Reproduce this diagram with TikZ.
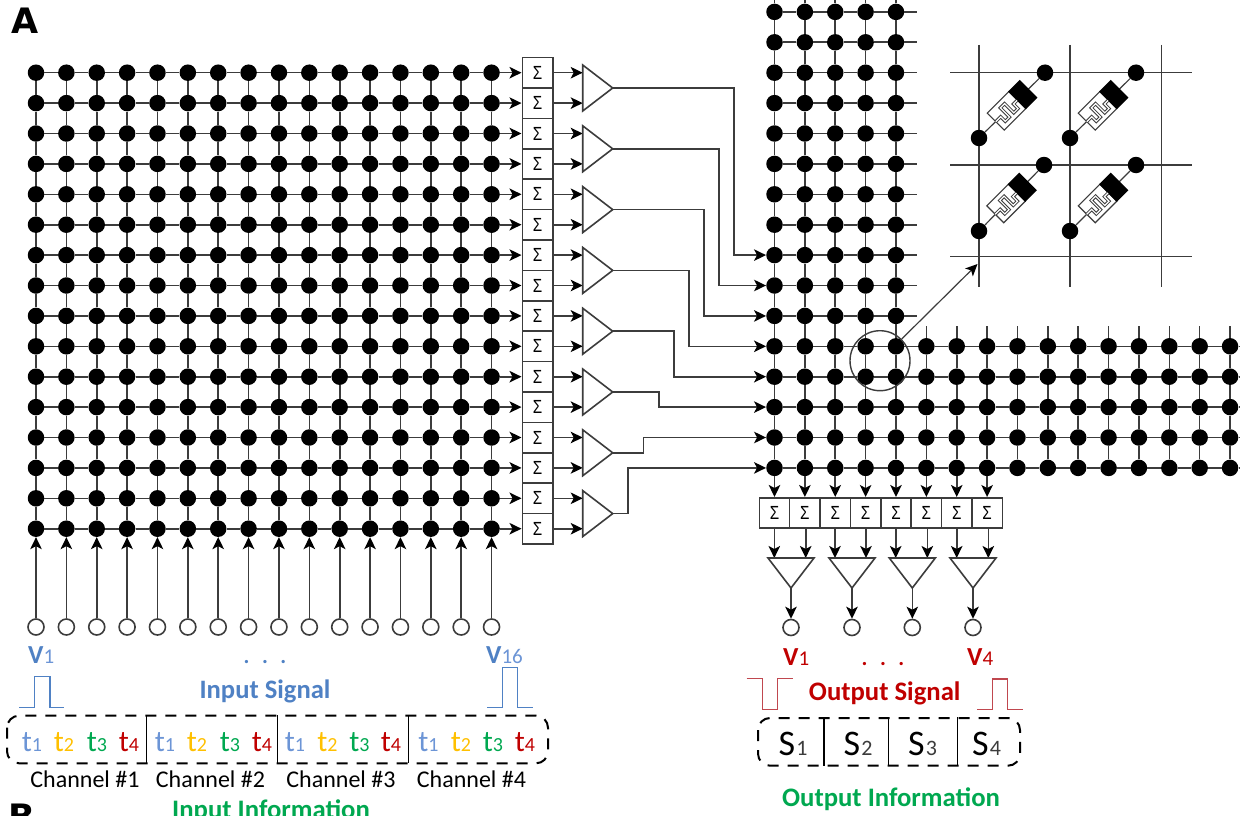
\documentclass[tikz,border=0pt]{standalone}
\usepackage{fontspec}
\setmainfont{Carlito}
\newfontfamily\sigfont{Liberation Sans}
\newfontfamily\labfont{DejaVu Sans}
\usetikzlibrary{arrows.meta}
\definecolor{ink}{HTML}{3C3C3C}
\definecolor{sigblue}{HTML}{4F81C4}
\definecolor{lightblue}{HTML}{6C95D6}
\definecolor{tyellow}{HTML}{FFC000}
\definecolor{tgreen}{HTML}{00A850}
\definecolor{tred}{HTML}{C00000}
\definecolor{pulsered}{HTML}{C0474F}
\newcommand{\fsz}[1]{\fontsize{#1}{#1}\selectfont}
\tikzset{
  wire/.style={draw=ink,line width=1.6pt},
  thinwire/.style={draw=ink,line width=1.2pt},
  arr/.style={wire,-{Stealth[length=12pt,width=11.5pt,inset=3pt,black]}},
  dot/.style={circle,fill=black,inner sep=0pt,minimum size=16.5pt},
  port/.style={circle,draw=ink,line width=1.6pt,fill=white,inner sep=0pt,minimum size=16pt},
  sumbox/.style={rectangle,draw=ink,line width=1.6pt,fill=white,inner sep=0pt,minimum width=30.4pt,minimum height=30.4pt,font=\sigfont\fsz{19}},
  txt/.style={inner sep=0pt,anchor=base west},
  ctxt/.style={inner sep=0pt,anchor=base},
  dashbox/.style={draw=black,line width=2pt,dash pattern=on 11pt off 9pt,rounded corners=12pt,inner sep=0pt},
  divider/.style={draw=black,line width=1.5pt},
}
\newcommand{\Sg}{\scalebox{0.8}[1]{Σ}}
\begin{document}
\begin{tikzpicture}[x=1pt,y=-1pt]
\useasboundingbox (0,0) rectangle (1242,816);
\clip (0,0) rectangle (1242,816);
\fill[white] (0,0) rectangle (1242,816);
\coordinate (origin) at (0,0);
% ---------- left grid
\foreach \ii in {1,...,16}{
  \foreach \jj in {1,...,16}{
    \pgfmathsetmacro\xx{36+30.37*(\ii-1)}
    \pgfmathsetmacro\yy{72.7+30.4*(\jj-1)}
    \node[dot] (L-\ii-\jj) at (\xx,\yy) {};
  }
}
\foreach \ii in {1,...,16}{
  \foreach \jj in {1,...,16}{
    \pgfmathtruncatemacro\nx{\ii+1}
    \pgfmathtruncatemacro\ny{\jj+1}
    \ifnum\ii<16 \draw[wire] (L-\ii-\jj) -- (L-\nx-\jj); \fi
    \ifnum\jj<16 \draw[wire] (L-\ii-\jj) -- (L-\ii-\ny); \fi
  }
}
% input ports
\foreach \ii in {1,...,16}{
  \pgfmathsetmacro\xx{36+30.37*(\ii-1)}
  \node[port] (I-\ii) at (\xx,627) {};
  \draw[arr] (I-\ii) -- (L-\ii-16);
}
% sums and amplifiers on left
\foreach \jj in {1,...,16}{
  \pgfmathsetmacro\yy{72.7+30.4*(\jj-1)}
  \node[sumbox] (S-\jj) at (537.5,\yy) {\Sg};
  \draw[arr] (L-16-\jj) -- (S-\jj.west);
  \coordinate (SI-\jj) at (582.7,\yy);
  \draw[arr] (S-\jj.east) -- (SI-\jj);
}
% right grid
\foreach \cc in {1,...,16}{
  \foreach \rr in {1,...,16}{
    \pgfmathtruncatemacro\keep{(\cc<6 || \rr>11) ? 1 : 0}
    \ifnum\keep=1
      \pgfmathsetmacro\xx{774.5+30.37*(\cc-1)}
      \pgfmathsetmacro\yy{72.7+30.4*(\rr-3)}
      \node[dot] (R-\cc-\rr) at (\xx,\yy) {};
    \fi
  }
}
\foreach \cc in {1,...,16}{
  \foreach \rr in {1,...,16}{
    \pgfmathtruncatemacro\keep{(\cc<6 || \rr>11) ? 1 : 0}
    \ifnum\keep=1
      \pgfmathtruncatemacro\nx{\cc+1}
      \pgfmathtruncatemacro\ny{\rr+1}
      \pgfmathtruncatemacro\hasx{(\cc<5 || (\rr>11 && \cc<16)) ? 1 : 0}
      \ifnum\hasx=1 \draw[wire] (R-\cc-\rr) -- (R-\nx-\rr); \fi
      \ifnum\rr<16 \draw[wire] (R-\cc-\rr) -- (R-\cc-\ny); \fi
    \fi
  }
}
% stubs of right grid
\foreach \cc in {1,...,5}{
  \coordinate (RT-\cc) at (R-\cc-1 |- origin);
  \draw[wire] (R-\cc-1) -- (RT-\cc);
}
\foreach \rr in {1,...,11}{
  \pgfmathsetmacro\yy{72.7+30.4*(\rr-3)}
  \coordinate (RE-\rr) at (917,\yy);
  \draw[wire] (R-5-\rr) -- (RE-\rr);
}
\foreach \cc in {6,...,16}{
  \pgfmathsetmacro\xx{774.5+30.37*(\cc-1)}
  \coordinate (RU-\cc) at (\xx,326);
  \draw[wire] (R-\cc-12) -- (RU-\cc);
}
\foreach \rr in {12,...,16}{
  \pgfmathsetmacro\yy{72.7+30.4*(\rr-3)}
  \coordinate (RX-\rr) at (1239,\yy);
  \draw[wire] (R-16-\rr) -- (RX-\rr);
}
% amplifiers and routes
\foreach \tn/\via in {1/734,2/719,3/704,4/689,5/674,6/659,7/643.5,8/628}{
  \pgfmathsetmacro\yy{88+30.4*2*(\tn-1)}
  \pgfmathsetmacro\yt{\yy-23}
  \pgfmathsetmacro\yb{\yy+23}
  \pgfmathtruncatemacro\target{8+\tn}
  \coordinate (TA-\tn) at (612.7,\yy);
  \coordinate (TV-\tn) at (\via,\yy);
  \draw[wire,line join=miter] (582.7,\yt) -- (TA-\tn) -- (582.7,\yb) -- cycle;
  \draw[arr] (TA-\tn) -- (TV-\tn) |- (R-1-\target);
}
% bottom sums
\foreach \kk/\ox in {1/774.3,2/805.7,3/835,4/866,5/895.7,6/927.3,7/956.7,8/988.3}{
  \pgfmathsetmacro\xx{774.5+30.37*(\kk-1)}
  \node[sumbox] (B-\kk) at (\xx,513) {\Sg};
  \draw[arr] (R-\kk-16) -- (B-\kk.north);
  \coordinate (BO-\kk) at (\ox,528.2);
  \coordinate (BT-\kk) at (\ox,558);
  \draw[arr] (BO-\kk) -- (BT-\kk);
}
\foreach \kk/\ax in {1/791,2/852,3/912.3,4/973}{
  \pgfmathsetmacro\xl{\ax-23}
  \pgfmathsetmacro\xr{\ax+23}
  \coordinate (OA-\kk) at (\ax,588);
  \draw[wire] (\xl,558) -- (\xr,558) -- (OA-\kk) -- cycle;
  \node[port] (O-\kk) at (\ax,627.5) {};
  \draw[arr] (OA-\kk) -- (O-\kk);
}
% magnifier
\node[circle,draw=ink,line width=1.4pt,inner sep=0pt,minimum size=60pt] (Z) at (880,360.7) {};
\coordinate (ZT) at (977.5,264);
\draw[thinwire,-{Stealth[length=12pt,width=11pt,inset=3pt,black]}] (Z.45) -- (ZT);
% inset
\foreach \yy in {72.7,165,256.7}{ \draw[thinwire] (950,\yy) -- (1192,\yy); }
\foreach \xx in {979,1070,1161.7}{ \draw[thinwire] (\xx,45) -- (\xx,287); }
\foreach \nn/\ax/\ay/\bx/\by in {a/979/138/1045/72.7,b/1070/138/1136/72.7,c/979/231/1044/165,d/1070/231/1136/165}{
  \node[dot] (M\nn-1) at (\ax,\ay) {};
  \node[dot] (M\nn-2) at (\bx,\by) {};
  \draw[thinwire] (M\nn-1) -- (M\nn-2);
}
\foreach \mx/\my in {1012/105.4,1103/105.4,1011.5/198,1103/198}{
  \begin{scope}[shift={(\mx,\my)},rotate=45]
    \filldraw[draw=ink,fill=white,line width=1.1pt] (-23,-12) rectangle (7.5,12);
    \fill[black] (7,-12.5) rectangle (23.5,12.5);
    \draw[ink,line width=3.2pt] (-23,0) -- (-16,0) -- (-16,6.5) -- (-10,6.5) -- (-10,-6.5) -- (-4,-6.5) -- (-4,6.5) -- (2,6.5) -- (2,0) -- (7,0);
    \draw[white,line width=1.2pt] (-23,0) -- (-16,0) -- (-16,6.5) -- (-10,6.5) -- (-10,-6.5) -- (-4,-6.5) -- (-4,6.5) -- (2,6.5) -- (2,0) -- (7,0);
  \end{scope}
}
% panel letters
\node[txt] (PA) at (11,34) {\labfont\bfseries\fsz{35}A};
\node[txt] (PB) at (8,829) {\labfont\bfseries\fsz{35}B};
% input side labels
\node[txt] (V1) at (28,663) {\textcolor{sigblue}{\fsz{26}\bfseries V}\textcolor{lightblue}{\fsz{21}1}};
\node[txt] (V16) at (486,663) {\textcolor{sigblue}{\fsz{26}\bfseries V}\textcolor{lightblue}{\fsz{21}16}};
\node[ctxt] (DI) at (265,663) {\textcolor{sigblue}{\fsz{22}\bfseries .\hspace{12.5pt}.\hspace{12.5pt}.}};
\node[ctxt] (IS) at (265,698) {\textcolor{sigblue}{\fsz{26.6}\bfseries Input Signal}};
\draw[sigblue,line width=1.5pt] (19.3,707.7) -- (34.3,707.7) -- (34.3,676.7) -- (50,676.7) -- (50,707.7) -- (64.3,707.7);
\draw[sigblue,line width=1.5pt] (487.3,707.7) -- (502.3,707.7) -- (502.3,667.7) -- (517.7,667.7) -- (517.7,707.7) -- (532.7,707.7);
\path[dashbox,draw] (7,715.7) rectangle (548,763.3);
\foreach \xx in {146.7,277.3,408.3}{ \draw[divider] (\xx,715) -- (\xx,763.3); }
\foreach \xa/\col/\lab in {
  32/lightblue/1,64/tyellow/2,97/tgreen/3,129/tred/4,
  165/lightblue/1,197/tyellow/2,230/tgreen/3,262/tred/4,
  295/lightblue/1,327.5/tyellow/2,359.5/tgreen/3,391/tred/4,
  428.5/lightblue/1,461/tyellow/2,493/tgreen/3,525/tred/4}{
  \node[ctxt] at (\xa,751.5) {\textcolor{\col}{\fsz{30}t\fsz{20}\lab}};
}
\foreach \cx/\lab in {85/1,210.5/2,341/3,471.5/4}{
  \node[ctxt] at (\cx,787.5) {\fsz{24}Channel \#\lab};
}
\node[ctxt] (II) at (271,818) {\textcolor{tgreen}{\fsz{26.7}\bfseries Input Information}};
% output side labels
\node[txt] (W1) at (783,665) {\textcolor{tred}{\fsz{26}\bfseries V}\textcolor{tred}{\fsz{21}1}};
\node[txt] (W4) at (967,665) {\textcolor{tred}{\fsz{26}\bfseries V}\textcolor{tred}{\fsz{21}4}};
\node[ctxt] (DO) at (883,665) {\textcolor{tred}{\fsz{22}\bfseries .\hspace{12.5pt}.\hspace{12.5pt}.}};
\node[ctxt] (OS) at (884.7,700) {\textcolor{tred}{\fsz{26.7}\bfseries Output Signal}};
\draw[pulsered,line width=1.5pt] (746.7,678.3) -- (762.3,678.3) -- (762.3,709.3) -- (777.7,709.3) -- (777.7,678.3) -- (792.7,678.3);
\draw[pulsered,line width=1.5pt] (977.3,709.3) -- (992.3,709.3) -- (992.3,679) -- (1007.7,679) -- (1007.7,709.3) -- (1022.7,709.3);
\path[dashbox,draw] (758,718) rectangle (1020,765.7);
\foreach \xx in {824,888.3,957.7}{ \draw[divider] (\xx,717) -- (\xx,765.7); }
\foreach \xa/\lab in {778.5/1,843.5/2,908/3,972/4}{
  \node[txt] at (\xa,755) {\fsz{36}S\hspace{1pt}\textcolor{ink}{\fsz{22}\lab}};
}
\node[ctxt] (OI) at (891,806) {\textcolor{tgreen}{\fsz{26.7}\bfseries Output Information}};
\end{tikzpicture}
\end{document}
